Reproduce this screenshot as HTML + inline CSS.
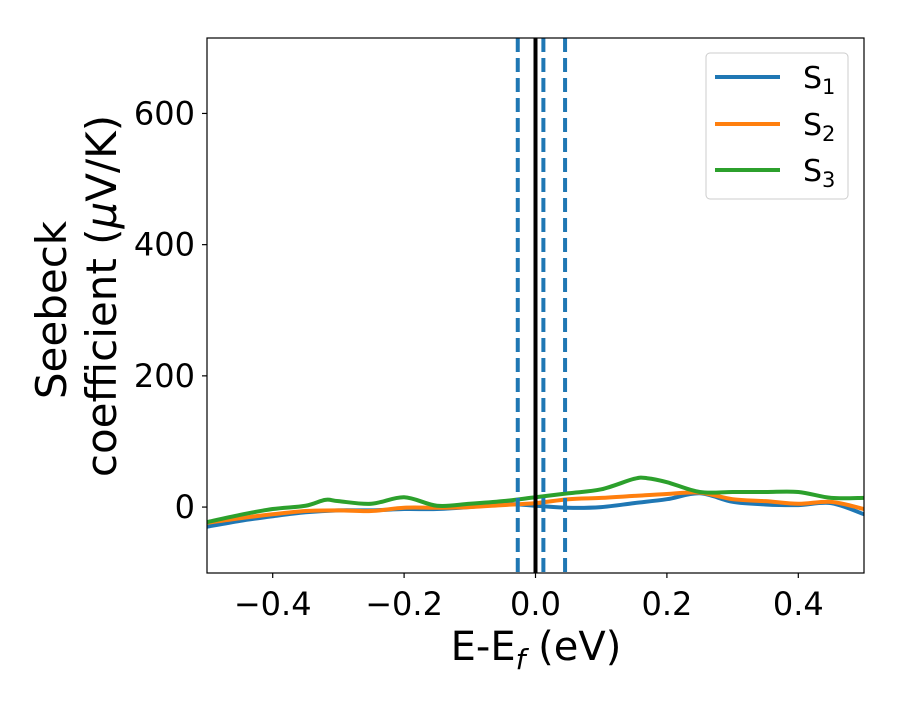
<!DOCTYPE html>
<html><head><meta charset="utf-8"><style>
body{margin:0;background:#fff;}
svg text{font-family:"DejaVu Sans","Liberation Sans",sans-serif;fill:#000;}
</style></head><body>
<svg id="chart" width="900" height="700" viewBox="0 0 900 700" xmlns="http://www.w3.org/2000/svg">
<rect x="0" y="0" width="900" height="700" fill="#fff"/>
<g id="plot"></g>
</svg>
<script>
const xs = [-0.5,-0.45,-0.4,-0.35,-0.3,-0.25,-0.2,-0.15,-0.1,-0.05,0,0.05,0.1,0.15,0.2,0.25,0.3,0.35,0.4,0.45,0.5];
const s1 = [-30,-21,-14,-8,-5,-5,-3,-3,0,5,2,-1,0,6,12,21,8,4,3,6,-11];
const s2 = [-24,-17,-11,-6,-5,-6,-1,-1,0,3,6,12,14,17,20,22,12,9,5,8,-3];
const greenXs = [-0.5,-0.45,-0.4,-0.35,-0.32,-0.3,-0.25,-0.2,-0.15,-0.1,-0.05,0,0.05,0.1,0.15,0.17,0.2,0.25,0.3,0.35,0.4,0.45,0.5];
const s3 = [-23,-12,-3,2,11,9,5,15,2,5,9,15,21,27,43,44,38,23,23,23,23,14,14];
const xTicks = [-0.4,-0.2,0,0.2,0.4];
const xTickLabels = ["\u22120.4","\u22120.2","0.0","0.2","0.4"];
const yTicks = [0,200,400,600];
const vlinesDashed = [-0.027,0.012,0.045];
const vlineSolid = 0;

const L=207,R=864,T=38,B=573, xMin=-0.5,xMax=0.5,yMin=-100.5,yMax=715;
const X=v=>L+(v-xMin)/(xMax-xMin)*(R-L);
const Y=v=>B-(v-yMin)/(yMax-yMin)*(B-T);
const NS="http://www.w3.org/2000/svg";
const g=document.getElementById('plot');
function mk(tag,attrs,parent){const e=document.createElementNS(NS,tag);for(const k in attrs)e.setAttribute(k,attrs[k]);(parent||g).appendChild(e);return e;}
function smooth(px,py){let d=`M${px[0]},${py[0]}`;for(let i=0;i<px.length-1;i++){const x0=px[Math.max(i-1,0)],y0=py[Math.max(i-1,0)],x1=px[i],y1=py[i],x2=px[i+1],y2=py[i+1],x3=px[Math.min(i+2,px.length-1)],y3=py[Math.min(i+2,px.length-1)];d+=` C${x1+(x2-x0)/6},${y1+(y2-y0)/6} ${x2-(x3-x1)/6},${y2-(y3-y1)/6} ${x2},${y2}`;}return d;}
const clip=mk('clipPath',{id:'pc'});mk('rect',{x:L,y:T,width:R-L,height:B-T},clip);
const series=[[xs,s1,'#1f77b4','series-s1'],[xs,s2,'#ff7f0e','series-s2'],[greenXs,s3,'#2ca02c','series-s3']];
series.forEach(([sx,sy,c,n])=>{const p=mk('path',{d:smooth(sx.map(X),sy.map(Y)),fill:'none',stroke:c,'stroke-width':4,'clip-path':'url(#pc)'});

});
vlinesDashed.forEach(v=>{const l=mk('line',{x1:X(v),x2:X(v),y1:T,y2:B,stroke:'#1f77b4','stroke-width':4,'stroke-dasharray':'14,6'});

});
const fl=mk('line',{x1:X(vlineSolid),x2:X(vlineSolid),y1:T,y2:B,stroke:'#000','stroke-width':4});


const fr=mk('rect',{x:L,y:T,width:R-L,height:B-T,fill:'none',stroke:'#000','stroke-width':1.2});


xTicks.forEach((v,i)=>{mk('line',{x1:X(v),x2:X(v),y1:B,y2:B+5,stroke:'#000','stroke-width':1.2});
const t=mk('text',{x:X(v),y:B+42,'text-anchor':'middle','font-size':32});t.textContent=xTickLabels[i];

});
yTicks.forEach(v=>{mk('line',{x1:L-5,x2:L,y1:Y(v),y2:Y(v),stroke:'#000','stroke-width':1.2});
const t=mk('text',{x:L-12,y:Y(v)+11,'text-anchor':'end','font-size':32});t.textContent=v;

});
</script>
<svg style="position:absolute;left:0;top:0" width="900" height="700" xmlns="http://www.w3.org/2000/svg">
<text x="536" y="660" text-anchor="middle" font-size="40">E-E<tspan font-style="italic" font-size="28" dy="9">f</tspan><tspan dy="-9"> (eV)</tspan></text>
<g>
<text x="-310" y="66" transform="rotate(-90)" text-anchor="middle" font-size="42">Seebeck</text>
<text x="-296" y="116" transform="rotate(-90)" text-anchor="middle" font-size="42">coefficient  (<tspan font-style="italic">μ</tspan>V/K)</text>
</g>
<g>
<rect x="706" y="53" width="142" height="146" rx="4" fill="#fff" fill-opacity="0.8" stroke="#ccc" stroke-width="1"/>
<g><line x1="715" x2="780" y1="77" y2="77" stroke="#1f77b4" stroke-width="4"/><text x="803" y="88" font-size="30">S<tspan font-size="21" dy="6">1</tspan></text></g>
<g><line x1="715" x2="780" y1="124" y2="124" stroke="#ff7f0e" stroke-width="4"/><text x="803" y="135" font-size="30">S<tspan font-size="21" dy="6">2</tspan></text></g>
<g><line x1="715" x2="780" y1="170" y2="170" stroke="#2ca02c" stroke-width="4"/><text x="803" y="181" font-size="30">S<tspan font-size="21" dy="6">3</tspan></text></g>
</g>
</svg>
</body></html>
